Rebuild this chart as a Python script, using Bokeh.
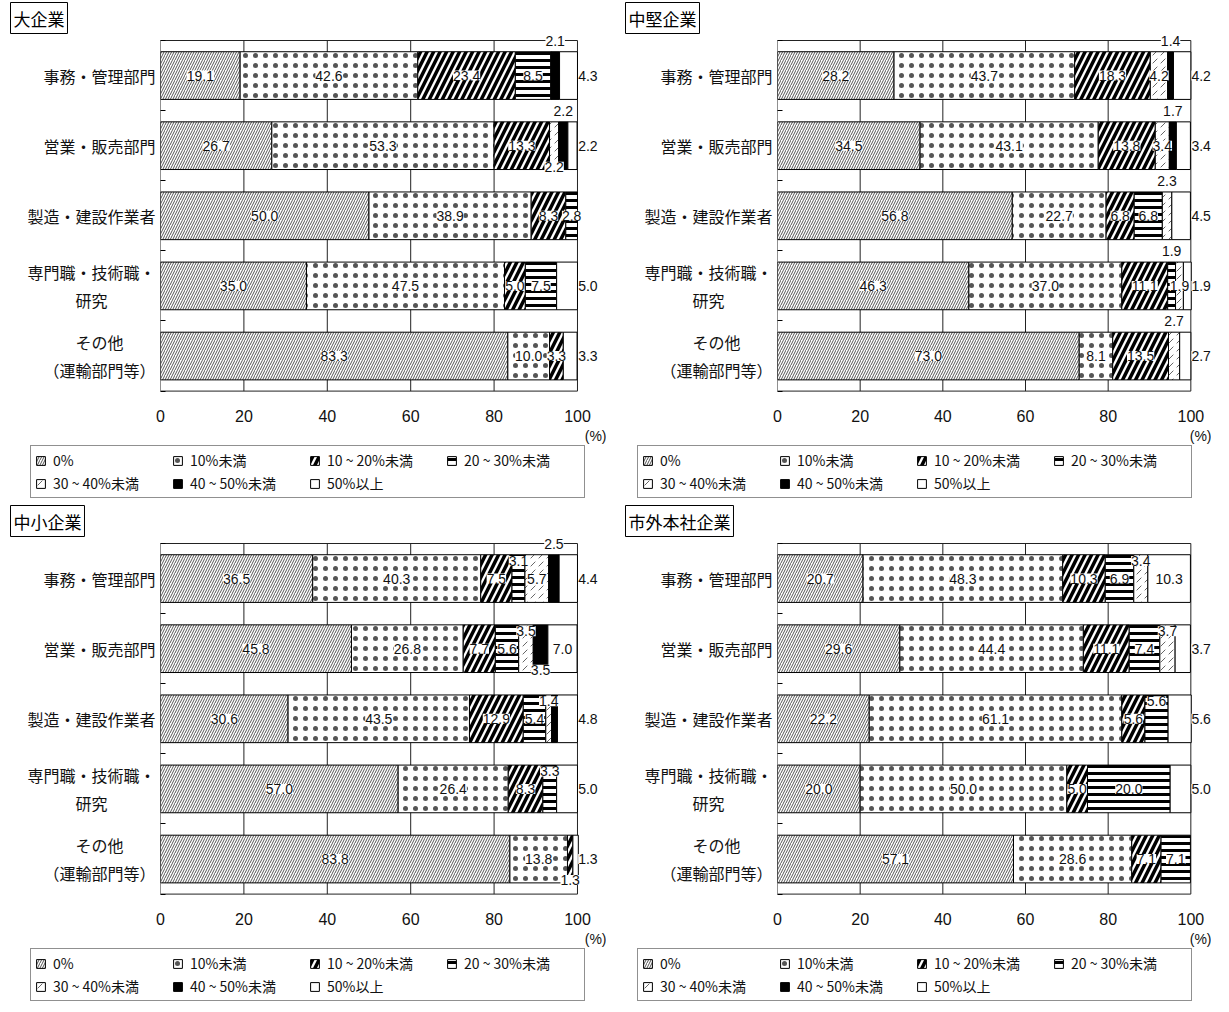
import numpy as np
from bokeh.plotting import figure
from bokeh.models import (ColumnDataSource, Range1d, FixedTicker, LabelSet, Title,
                          Legend, LegendItem)
from bokeh.layouts import column, row
from bokeh.embed import file_html
from bokeh.resources import INLINE
from bokeh.core.properties import value

# ---------------- data ----------------
categories = ["事務・管理部門", "営業・販売部門", "製造・建設作業者",
              "専門職・技術職・\n研究　　　", "その他　　\n（運輸部門等）"]
series = ["0%", "10%未満", "10 ~ 20%未満", "20 ~ 30%未満",
          "30 ~ 40%未満", "40 ~ 50%未満", "50%以上"]
x_ticks = [0, 20, 40, 60, 80, 100]
panel_titles = ["大企業", "中堅企業", "中小企業", "市外本社企業"]

large = [[19.1, 42.6, 23.4, 8.5, 0.0, 2.1, 4.3],
         [26.7, 53.3, 13.3, 0.0, 2.2, 2.2, 2.2],
         [50.0, 38.9, 8.3, 2.8, 0.0, 0.0, 0.0],
         [35.0, 47.5, 5.0, 7.5, 0.0, 0.0, 5.0],
         [83.3, 10.0, 3.3, 0.0, 0.0, 0.0, 3.3]]
midsize = [[28.2, 43.7, 18.3, 0.0, 4.2, 1.4, 4.2],
           [34.5, 43.1, 13.8, 0.0, 3.4, 1.7, 3.4],
           [56.8, 22.7, 6.8, 6.8, 2.3, 0.0, 4.5],
           [46.3, 37.0, 11.1, 1.9, 1.9, 0.0, 1.9],
           [73.0, 8.1, 13.5, 0.0, 2.7, 0.0, 2.7]]
small = [[36.5, 40.3, 7.5, 3.1, 5.7, 2.5, 4.4],
         [45.8, 26.8, 7.7, 5.6, 3.5, 3.5, 7.0],
         [30.6, 43.5, 12.9, 5.4, 1.4, 1.4, 4.8],
         [57.0, 26.4, 8.3, 3.3, 0.0, 0.0, 5.0],
         [83.8, 13.8, 1.3, 0.0, 0.0, 0.0, 1.3]]
outside = [[20.7, 48.3, 10.3, 6.9, 3.4, 0.0, 10.3],
           [29.6, 44.4, 11.1, 7.4, 3.7, 0.0, 3.7],
           [22.2, 61.1, 5.6, 5.6, 0.0, 0.0, 5.6],
           [20.0, 50.0, 5.0, 20.0, 0.0, 0.0, 5.0],
           [57.1, 28.6, 7.1, 7.1, 0.0, 0.0, 0.0]]

# label placement codes: c=centre, t=top edge, u=upper, b=lower, r=right of bar, -=none
codes_large = ["cccc-tr", "ccc-btr", "cccc---", "cccc--r", "ccc---r"]
codes_midsize = ["ccc-ctr", "ccc-ctr", "cccct-r", "ccctc-r", "ccc-t-r"]
codes_small = ["cccuctr", "ccccubc", "ccccu-r", "cccu--r", "ccb---r"]
codes_outside = ["ccccu-c", "ccccu-r", "cccu--r", "cccc--r", "cccc---"]

# ---------------- styles ----------------
styles = [
    dict(fill_color="white", hatch_pattern="right_diagonal_line", hatch_color="#555555",
         hatch_scale=5, hatch_weight=1),
    dict(fill_color="white", hatch_pattern="dot", hatch_color="#555555",
         hatch_scale=10, hatch_weight=0.5),
    dict(fill_color="white", hatch_pattern="right_diagonal_line", hatch_color="black",
         hatch_scale=13, hatch_weight=3.5),
    dict(fill_color="white", hatch_pattern="horizontal_line", hatch_color="black",
         hatch_scale=7, hatch_weight=3),
    dict(fill_color="white", hatch_pattern="right_diagonal_dash", hatch_color="#666666",
         hatch_scale=8, hatch_weight=1),
    dict(fill_color="black"),
    dict(fill_color="white"),
]

JP = "Noto Sans CJK JP"
NUM = "Liberation Sans"
ROW_PX = 70.2
Y_LO, Y_HI_PAD = 0.02, 0.1
BAR_H = 0.68


def make_panel(title, data, codes, left_border, px100, x_max, right_border,
               title_dx, pct_offset):
    n = len(categories)
    ypos = np.array([n - 1 - i for i in range(n)], dtype=float)
    y0, y1 = -0.5 - Y_LO, n - 0.5 + Y_HI_PAD
    p = figure(frame_width=int(round(px100 * x_max / 100)),
               frame_height=int(round(ROW_PX * (y1 - y0))),
               x_range=Range1d(0, x_max), y_range=Range1d(y0, y1),
               output_backend="svg", toolbar_location=None,
               min_border_left=left_border, min_border_right=right_border,
               min_border_top=27, min_border_bottom=53)
    p.outline_line_color = None
    p.background_fill_color = "white"
    p.border_fill_color = "white"
    p.xgrid.visible = False
    p.ygrid.visible = False

    # frame lines: vertical grid at ticks, top & bottom borders
    p.segment(x0=x_ticks, y0=[-0.5] * len(x_ticks), x1=x_ticks,
              y1=[n - 0.5] * len(x_ticks), line_color="#222222", line_width=1)
    p.segment(x0=[0, 0], y0=[-0.5, n - 0.5], x1=[x_ticks[-1]] * 2, y1=[-0.5, n - 0.5],
              line_color="#222222", line_width=1)

    arr = np.array(data)
    cum = np.cumsum(arr, axis=1)
    start = cum - arr
    full_sources = []
    for j, s in enumerate(series):
        mask = arr[:, j] > 0
        src = ColumnDataSource(dict(y=ypos[mask], left=start[mask, j], right=cum[mask, j]))
        full_sources.append(ColumnDataSource(dict(y=ypos, left=start[:, j], right=cum[:, j])))
        p.hbar(y="y", left="left", right="right", height=BAR_H, source=src,
               line_color="black", line_width=1, **styles[j])

    lx, ly, lt = [], [], []
    for i in range(n):
        for j in range(len(series)):
            code = codes[i][j]
            if code == "-":
                continue
            mid = start[i, j] + arr[i, j] / 2
            y = ypos[i]
            x = mid
            if code == "t":
                y = y + 0.5
            elif code == "u":
                y = y + 0.25
            elif code == "b":
                y = y - 0.3
            elif code == "r":
                x = 102.5
            lx.append(x)
            ly.append(y)
            lt.append(f"{arr[i, j]:.1f}")
    lsrc = ColumnDataSource(dict(x=lx, y=ly, t=lt))
    labels = LabelSet(x="x", y="y", text="t", source=lsrc, text_align="center",
                      text_baseline="middle", text_font=value(NUM), text_font_size="14px",
                      text_color="#111111", background_fill_color="white",
                      background_fill_alpha=1.0)
    p.add_layout(labels)

    # axes
    xa = p.xaxis[0]
    xa.ticker = FixedTicker(ticks=x_ticks)
    xa.axis_line_color = None
    xa.major_tick_line_color = None
    xa.major_tick_out = 0
    xa.minor_tick_line_color = None
    xa.major_label_text_font = NUM
    xa.major_label_text_font_size = "16px"
    xa.major_label_text_color = "#111111"
    xa.major_label_standoff = 17

    ya = p.yaxis[0]
    ya.ticker = FixedTicker(ticks=list(ypos), minor_ticks=[v + 0.5 for v in range(-1, n)])
    ya.major_label_overrides = {int(ypos[i]): categories[i] for i in range(n)}
    ya.major_tick_line_color = None
    ya.major_tick_out = 0
    ya.major_tick_in = 0
    ya.minor_tick_in = 5
    ya.minor_tick_out = 0
    ya.minor_tick_line_color = "black"
    ya.axis_line_color = None
    ya.major_label_text_font = JP
    ya.major_label_text_font_size = "16px"
    ya.major_label_text_color = "#111111"
    ya.major_label_standoff = 5

    # title box
    p.title = Title(text=title, align="left", offset=title_dx, text_font=JP,
                    text_font_size="17px", text_font_style="normal", text_color="black",
                    border_line_color="black", background_fill_color="white",
                    padding=3, standoff=0)
    # (%) unit below axis
    p.add_layout(Title(text="(%)", align="right", offset=pct_offset, text_font=NUM,
                       text_font_size="14px", text_font_style="normal",
                       text_color="#111111", standoff=2), "below")
    return p, full_sources


def make_legend(width, left, sources):
    # legend strip: the same bar data, drawn outside this strip's visible range
    lf = figure(width=width, height=58, output_backend="svg", toolbar_location=None,
                x_axis_location=None, y_axis_location=None, min_border=0,
                x_range=Range1d(0, 1), y_range=Range1d(100, 101))
    lf.outline_line_color = None
    lf.xgrid.visible = False
    lf.ygrid.visible = False
    items = []
    for j, s in enumerate(series):
        r = lf.hbar(y="y", left="left", right="right", height=BAR_H, source=sources[j],
                    line_color="black", line_width=1, **styles[j])
        items.append(LegendItem(label=s, renderers=[r]))
    legend = Legend(items=items, location=(left, 5), orientation="horizontal",
                    ncols=4, border_line_color="#222222", border_line_width=1,
                    background_fill_color="white", background_fill_alpha=1.0,
                    label_text_font=JP, label_text_font_size="14px",
                    label_text_color="#111111", glyph_width=11, glyph_height=11,
                    label_standoff=7, label_width=116, spacing=3, padding=4, margin=0,
                    label_height=16)
    lf.add_layout(legend)
    return lf


p1, s1 = make_panel(panel_titles[0], large, codes_large, 160, 417, 106, 4, -150, -4)
p2, s2 = make_panel(panel_titles[1], midsize, codes_midsize, 171, 413, 105, 0, -152, 0)
p3, s3 = make_panel(panel_titles[2], small, codes_small, 160, 417, 106, 4, -150, -4)
p4, s4 = make_panel(panel_titles[3], outside, codes_outside, 171, 413, 105, 0, -152, 0)
l1 = make_legend(606, 30, s1)
l2 = make_legend(605, 31, s2)
l3 = make_legend(606, 30, s3)
l4 = make_legend(605, 31, s4)

layout = column(row(p1, p2), row(l1, l2), row(p3, p4), row(l3, l4))
open("out.html", "w").write(file_html(layout, INLINE))
